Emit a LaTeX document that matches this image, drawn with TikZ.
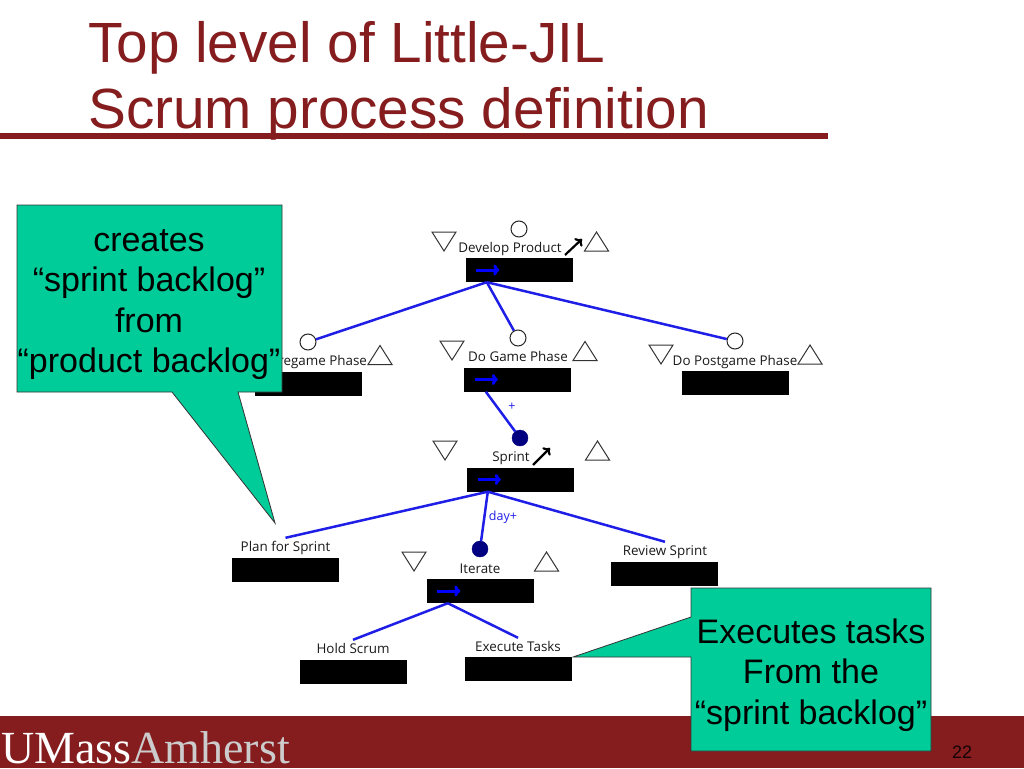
\documentclass[tikz,border=0pt]{standalone}
\usepackage{fontspec}
\setmainfont{Liberation Sans}
\newfontfamily\jilfont{Open Sans}
\newfontfamily\logofont{Liberation Serif}
\usepackage{xcolor}
\usetikzlibrary{arrows.meta, positioning, calc}
\definecolor{umassred}{RGB}{133,28,30}
\definecolor{calloutgreen}{RGB}{0,204,153}
\definecolor{jilblue}{RGB}{30,30,230}
\definecolor{jilnavy}{RGB}{0,0,128}

\begin{document}
\begin{tikzpicture}[
  x=1pt, y=-1pt,
  jilbar/.style={fill=black, minimum width=107pt, minimum height=24pt, inner sep=0pt},
  jillabel/.style={font=\jilfont\fontsize{13.4}{15}\selectfont, text=black!90, inner sep=3pt, text height=10.5pt, text depth=1.5pt},
  jiledge/.style={draw=jilblue, line width=2.5pt},
  emptydot/.style={circle, draw=black!85, fill=white, line width=1pt, minimum size=16pt, inner sep=0pt},
  fulldot/.style={circle, draw=jilnavy, fill=jilnavy, minimum size=16pt, inner sep=0pt},
  seqarrow/.style={draw=blue, line width=3pt, -{To[length=6pt,width=11pt]}},
  stepkit/.style={draw=black, line width=2.2pt, -{To[length=6pt,width=11pt]}},
  bubble/.style={fill=calloutgreen, draw=black!80, line width=0.8pt},
  bubbletext/.style={align=center, inner sep=0pt, font=\fontsize{34}{40.5}\selectfont},
  cardinal/.style={font=\jilfont\fontsize{12.5}{14}\selectfont, text=jilblue, inner sep=1pt},
  pics/uptri/.style={code={\draw[draw=black!80, line width=1pt] (-12,9.5) -- (12,9.5) -- (0,-9.5) -- cycle;}},
  pics/downtri/.style={code={\draw[draw=black!80, line width=1pt] (-12,-9.5) -- (12,-9.5) -- (0,9.5) -- cycle;}}
]

\useasboundingbox (0,0) rectangle (1024,768);

% footer and title
\fill[umassred] (0,716) rectangle (1024,768);
\fill[umassred] (0,133) rectangle (828,139);
\node[anchor=base west, inner sep=0pt, align=left, text=umassred, font=\fontsize{56.7}{66}\selectfont] (title) at (88,128) {Top level of Little-JIL\\Scrum process definition};
\node[anchor=base west, inner sep=0pt, font=\logofont\fontsize{46}{46}\selectfont] (logo) at (1,763) {\textcolor{white}{UMass}\textcolor{black!20}{Amherst}};
\node[text=black!85!umassred, inner sep=0pt, font=\fontsize{18}{20}\selectfont] (pagenum) at (962,752) {22};

% steps
\node[jilbar] (devbar) at (519,270) {};
\node[jilbar] (gamebar) at (517.5,379.5) {};
\node[jilbar] (postbar) at (735,383) {};
\node[jilbar] (prebar) at (308.5,383.5) {};
\node[jilbar] (sprintbar) at (520.5,479.5) {};
\node[jilbar] (planbar) at (285.5,569.5) {};
\node[jilbar] (iterbar) at (480,591) {};
\node[jilbar] (reviewbar) at (664,573.5) {};
\node[jilbar] (holdbar) at (353,671.5) {};
\node[jilbar] (execbar) at (518,669) {};

\node[jillabel] (devlabel) at (510,248) {Develop Product};
\node[jillabel] (gamelabel) at (518,357) {Do Game Phase};
\node[jillabel] (postlabel) at (735,361) {Do Postgame Phase};
\node[jillabel] (prelabel) at (308,361) {Do Pregame Phase};
\node[jillabel] (sprintlabel) at (511,457) {Sprint};
\node[jillabel] (planlabel) at (285.5,547) {Plan for Sprint};
\node[jillabel] (iterlabel) at (480,569) {Iterate};
\node[jillabel] (reviewlabel) at (665,551) {Review Sprint};
\node[jillabel] (holdlabel) at (353,649) {Hold Scrum};
\node[jillabel] (execlabel) at (518,647) {Execute Tasks};

\node[emptydot] (devdot) at (519,229) {};
\node[emptydot] (gamedot) at (518,338) {};
\node[emptydot] (postdot) at (735,341) {};
\node[emptydot] (predot) at (308,342) {};
\node[fulldot] (sprintdot) at (520,438) {};
\node[fulldot] (iterdot) at (480,549) {};

\pic (devdown) at (444,241.5) {downtri};
\pic (devup) at (596.5,241.5) {uptri};
\pic (gamedown) at (452,350.5) {downtri};
\pic (gameup) at (585,351) {uptri};
\pic (postdown) at (661,354.5) {downtri};
\pic (postup) at (810,354.5) {uptri};
\pic (preup) at (380,355) {uptri};
\pic (sprintdown) at (445,450.5) {downtri};
\pic (sprintup) at (597.5,450.5) {uptri};
\pic (iterdown) at (414,561.5) {downtri};
\pic (iterup) at (546.5,561.5) {uptri};

% connectors
\coordinate (devhub) at ([xshift=21.5pt]devbar.south west);
\coordinate (gamehub) at ([xshift=22pt]gamebar.south west);
\coordinate (sprinthub) at ([xshift=21pt]sprintbar.south west);
\coordinate (iterhub) at ([xshift=21.5pt]iterbar.south west);

\draw[jiledge] (devhub) -- (predot);
\draw[jiledge] (devhub) -- (gamedot);
\draw[jiledge] (devhub) -- (postdot);
\draw[jiledge] (gamehub) -- (sprintdot);
\draw[jiledge] (sprinthub) -- (planlabel.north);
\draw[jiledge] (sprinthub) -- (iterdot);
\draw[jiledge] (sprinthub) -- (reviewlabel.north);
\draw[jiledge] (iterhub) -- (holdlabel.north);
\draw[jiledge] (iterhub) -- (execlabel.north);

\node[cardinal] (pluslabel) at (512,407) {+};
\node[cardinal] (daylabel) at (503,517) {day+};

\foreach \b in {devbar,gamebar,sprintbar,iterbar}
  \draw[seqarrow] ([xshift=11pt]\b.west) -- ([xshift=34pt]\b.west);

\coordinate (devkit) at (565,255);
\coordinate (devkittip) at (582,239);
\coordinate (sprintkit) at (533,465);
\coordinate (sprintkittip) at (550,448);
\draw[stepkit] (devkit) -- (devkittip);
\draw[stepkit] (sprintkit) -- (sprintkittip);

% callouts
\draw[bubble] (17,205) -- (282,205) -- (282,392) -- (238,392) -- (275,523) -- (172,392) -- (17,392) -- cycle;
\node[bubbletext] (leftnote) at (149,304.5) {creates\\``sprint backlog''\\from\\``product backlog''};
\draw[bubble] (691,588) -- (931,588) -- (931,751) -- (691,751) -- (691,657) -- (573,657) -- (691,617) -- cycle;
\node[bubbletext] (rightnote) at (811,675) {Executes tasks\\From the\\``sprint backlog''};

\end{tikzpicture}
\end{document}
